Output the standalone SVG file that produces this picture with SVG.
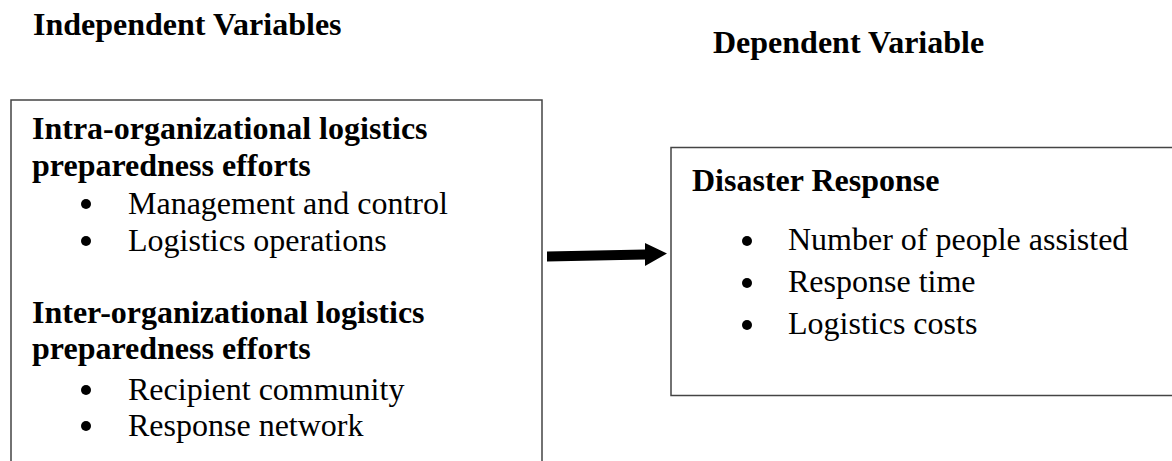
<svg xmlns="http://www.w3.org/2000/svg" width="1172" height="461" viewBox="0 0 1172 461">
  <style>
    text { font-family: "Liberation Serif", "Times New Roman", serif; font-size: 32px; fill: #000; }
    .b { font-weight: bold; }
    .box { fill: #fff; stroke: #444; stroke-width: 1.5; }
    .bul { fill: #000; }
  </style>
  <rect width="1172" height="461" fill="#fff"/>
  <g id="header-independent">
    <text class="b" x="33" y="35">Independent Variables</text>
  </g>
  <g id="header-dependent">
    <text class="b" x="713" y="53">Dependent Variable</text>
  </g>
  <g id="node-independent">
    <path class="box" d="M11,470 V100 H542 V470"/>
    <text class="b" x="32" y="139">Intra-organizational logistics</text>
    <text class="b" x="32" y="176">preparedness efforts</text>
    <circle class="bul" cx="86" cy="204" r="5"/>
    <text x="128" y="214">Management and control</text>
    <circle class="bul" cx="86" cy="241" r="5"/>
    <text x="128" y="251">Logistics operations</text>
    <text class="b" x="32" y="323">Inter-organizational logistics</text>
    <text class="b" x="32" y="359">preparedness efforts</text>
    <circle class="bul" cx="86" cy="390" r="5"/>
    <text x="128" y="400">Recipient community</text>
    <circle class="bul" cx="86" cy="426" r="5"/>
    <text x="128" y="436">Response network</text>
  </g>
  <g id="node-dependent">
    <rect class="box" x="671" y="147.5" width="520" height="248" stroke="#222"/>
    <text class="b" x="692" y="191">Disaster Response</text>
    <circle class="bul" cx="747" cy="241" r="5"/>
    <text x="788" y="250">Number of people assisted</text>
    <circle class="bul" cx="747" cy="283" r="5"/>
    <text x="788" y="292">Response time</text>
    <circle class="bul" cx="747" cy="325" r="5"/>
    <text x="788" y="334">Logistics costs</text>
  </g>
  <g id="connectors">
    <polygon points="547,251.5 645,249.5 645,243 667,253.5 645,266 645,259.5 547,261.5" fill="#000"/>
  </g>
</svg>
